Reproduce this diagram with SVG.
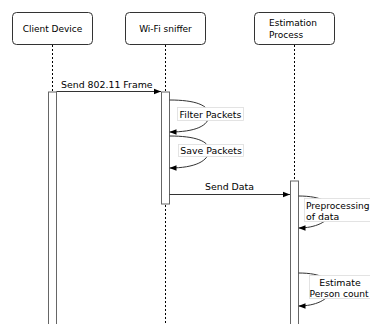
<svg xmlns="http://www.w3.org/2000/svg" width="370" height="324" viewBox="0 0 370 324">
<style>
.box{fill:#fff;stroke:#333;stroke-width:1}
.life{stroke:#000;stroke-width:1;stroke-dasharray:2,2;fill:none}
.bar{fill:#fff;stroke:#666;stroke-width:1}
.msg{stroke:#333;stroke-width:1;fill:none}
.t{font-family:"DejaVu Sans",Verdana,sans-serif;font-size:9px;fill:#000}
.m{font-family:"DejaVu Sans",Verdana,sans-serif;font-size:9.4px;fill:#000}
.lbl{fill:#fff;stroke:#ddd;stroke-width:0.8}
</style>
<defs>
<marker id="ah" viewBox="0 0 10 10" refX="10" refY="5" markerWidth="7" markerHeight="7" orient="auto" markerUnits="userSpaceOnUse">
<path d="M0,1 L10,5 L0,9 Z" fill="#000"/>
</marker>
</defs>
<rect width="370" height="324" fill="#fff"/>
<g id="client">
<rect class="box" x="12.5" y="12.5" width="80" height="32" rx="4"/>
<text class="t" x="52.5" y="31.5" text-anchor="middle">Client Device</text>
<line class="life" x1="52.5" y1="45" x2="52.5" y2="92"/>
<rect class="bar" x="48.5" y="92" width="8" height="240"/>
</g>
<g id="sniffer">
<rect class="box" x="125.5" y="12.5" width="80" height="32" rx="4"/>
<text class="t" x="165.5" y="31.5" text-anchor="middle">Wi-Fi sniffer</text>
<line class="life" x1="165.5" y1="45" x2="165.5" y2="324"/>
<rect class="bar" x="161.5" y="92" width="8" height="112"/>
</g>
<g id="estimation">
<rect class="box" x="254.5" y="12.5" width="80" height="32" rx="4"/>
<text class="t" x="269" y="25.5">Estimation</text>
<text class="t" x="269" y="37.5">Process</text>
<line class="life" x1="294.5" y1="45" x2="294.5" y2="181"/>
<rect class="bar" x="290.5" y="181" width="8" height="150"/>
</g>
<g id="connectors">
<line class="msg" x1="56.5" y1="91.5" x2="161" y2="91.5" marker-end="url(#ah)"/>
<text class="m" x="61" y="88">Send 802.11 Frame</text>
<path class="msg" d="M169.5,100 C195,100 209,105 209,115 C209,126 195,132 169.5,132" marker-end="url(#ah)"/>
<rect class="lbl" x="177.5" y="107.5" width="66" height="13"/>
<text class="m" x="210.5" y="117.5" text-anchor="middle">Filter Packets</text>
<path class="msg" d="M169.5,136 C195,136 209,141 209,150 C209,161 195,168 169.5,168" marker-end="url(#ah)"/>
<rect class="lbl" x="178.5" y="144.5" width="65" height="12"/>
<text class="m" x="211" y="154" text-anchor="middle">Save Packets</text>
<line class="msg" x1="169.5" y1="194.5" x2="290" y2="194.5" marker-end="url(#ah)"/>
<text class="m" x="229.5" y="189.5" text-anchor="middle">Send Data</text>
<path class="msg" d="M298.5,196 C322,196 333,203 331,212 C329,222 315,228 298.5,228" marker-end="url(#ah)"/>
<rect class="lbl" x="304.5" y="198.5" width="70" height="23"/>
<text class="m" x="306" y="208.5" style="font-size:9.1px">Preprocessing</text>
<text class="m" x="306" y="219.5">of data</text>
<path class="msg" d="M298.5,273 C322,273 333,280 331,290 C329,300 315,306 298.5,306" marker-end="url(#ah)"/>
<rect class="lbl" x="309.5" y="275.5" width="65" height="23"/>
<text class="m" x="340" y="285.5" text-anchor="middle">Estimate</text>
<text class="m" x="309.5" y="296.5" style="font-size:9.1px">Person count</text>
</g>
</svg>
